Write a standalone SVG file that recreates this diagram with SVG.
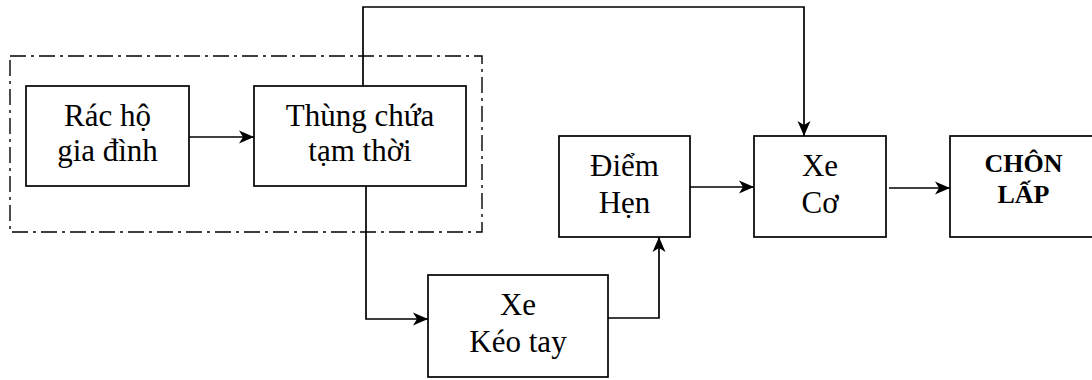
<svg xmlns="http://www.w3.org/2000/svg" width="1092" height="380" viewBox="0 0 1092 380">
  <style>
    .box { fill: #ffffff; stroke: #000000; stroke-width: 1.7; }
    .zone { fill: none; stroke: #000000; stroke-width: 1.4; stroke-dasharray: 16 5 3 5; }
    .wire { fill: none; stroke: #000000; stroke-width: 1.7; }
    .lbl { font-family: "Liberation Serif", "Times New Roman", serif; font-size: 31px; fill: #000000; text-anchor: middle; }
    .bold { font-weight: bold; font-size: 26px; }
  </style>
  <defs>
    <marker id="arrow" markerUnits="userSpaceOnUse" markerWidth="18" markerHeight="14" refX="15" refY="7" orient="auto">
      <path d="M0,0.5 L15,7 L0,13.5 L4,7 Z" fill="#000000"/>
    </marker>
  </defs>

  <rect width="1092" height="380" fill="#ffffff"/>

  <!-- household collection zone -->
  <rect class="zone" x="10" y="56" width="472" height="176"/>

  <!-- connectors -->
  <g id="connectors">
    <path class="wire" d="M189,137 H254" marker-end="url(#arrow)"/>
    <path class="wire" d="M363,86 V7 H804 V136" marker-end="url(#arrow)"/>
    <path class="wire" d="M366,186 V319 H428" marker-end="url(#arrow)"/>
    <path class="wire" d="M605,318 H659 V237" marker-end="url(#arrow)"/>
    <path class="wire" d="M690,187 H754" marker-end="url(#arrow)"/>
    <path class="wire" d="M889,188 H950" marker-end="url(#arrow)"/>
  </g>

  <g id="rac-ho-gia-dinh">
    <rect class="box" x="26" y="86" width="163" height="100"/>
    <text class="lbl" x="107.5" y="126">Rác hộ</text>
    <text class="lbl" x="107.5" y="161">gia đình</text>
  </g>

  <g id="thung-chua">
    <rect class="box" x="254" y="86" width="212" height="100"/>
    <text class="lbl" x="360" y="126">Thùng chứa</text>
    <text class="lbl" x="360" y="161">tạm thời</text>
  </g>

  <g id="diem-hen">
    <rect class="box" x="559" y="136" width="131" height="101"/>
    <text class="lbl" x="624.5" y="175.5">Điểm</text>
    <text class="lbl" x="624.5" y="212.5">Hẹn</text>
  </g>

  <g id="xe-co">
    <rect class="box" x="754" y="136" width="132" height="101"/>
    <text class="lbl" x="820" y="176">Xe</text>
    <text class="lbl" x="820" y="212.5">Cơ</text>
  </g>

  <g id="chon-lap">
    <rect class="box" x="950" y="136" width="150" height="101"/>
    <text class="lbl bold" x="1023.5" y="172">CHÔN</text>
    <text class="lbl bold" x="1023.5" y="203">LẤP</text>
  </g>

  <g id="xe-keo-tay">
    <rect class="box" x="428" y="275" width="180" height="102"/>
    <text class="lbl" x="518" y="315">Xe</text>
    <text class="lbl" x="518" y="352">Kéo tay</text>
  </g>
</svg>
